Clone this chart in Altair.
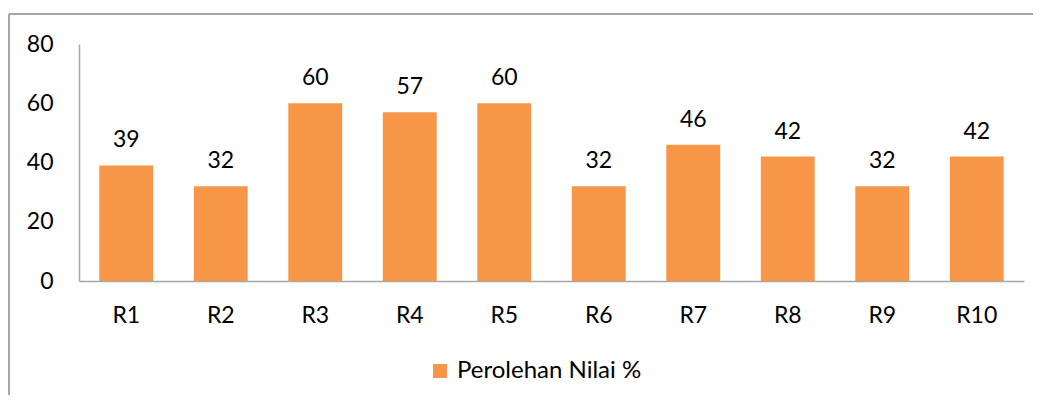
import altair as alt
import pandas as pd

categories = ["R1", "R2", "R3", "R4", "R5", "R6", "R7", "R8", "R9", "R10"]
values = [39, 32, 60, 57, 60, 32, 46, 42, 32, 42]
series_name = "Perolehan Nilai %"
y_ticks = [0, 20, 40, 60, 80]

df = pd.DataFrame({"cat": categories, "val": values, "series": [series_name] * len(categories)})

FONT = "Lato"
FS = 23
ORANGE = "#F79646"
GRAY = "#A6A6A6"

x_enc = alt.X("cat:N", sort=categories, title=None,
              scale=alt.Scale(paddingInner=0.43, paddingOuter=0.215),
              axis=alt.Axis(labelAngle=0, ticks=False, domainColor=GRAY, domainWidth=1.5,
                            labelPadding=23, labelFontSize=FS, labelFont=FONT, labelColor="#000000"))
y_enc = alt.Y("val:Q", title=None,
              scale=alt.Scale(domain=[0, 80], nice=False),
              axis=alt.Axis(values=y_ticks, grid=False, ticks=False, domainColor=GRAY, domainWidth=1.5,
                            labelPadding=26, labelFontSize=FS, labelFont=FONT, labelColor="#000000"))

bars = alt.Chart(df).mark_bar().encode(
    x=x_enc,
    y=y_enc,
    color=alt.Color("series:N", title=None,
                    scale=alt.Scale(domain=[series_name], range=[ORANGE]),
                    legend=alt.Legend(orient="none", legendX=349, legendY=315, padding=0,
                                      symbolType="square", symbolSize=196, symbolStrokeWidth=0,
                                      labelFontSize=24, labelFont=FONT, labelColor="#000000",
                                      labelOffset=5, labelLimit=0)),
)

labels = alt.Chart(df).mark_text(baseline="alphabetic", dy=-18, fontSize=FS, font=FONT, color="#000000").encode(
    x=alt.X("cat:N", sort=categories),
    y=alt.Y("val:Q"),
    text=alt.Text("val:Q"),
)

border_top = alt.Chart(df).mark_rule(color=GRAY, strokeWidth=1.5).encode(
    x=alt.value(-70), x2=alt.value(1200), y=alt.value(-30)
)
border_left = alt.Chart(df).mark_rule(color=GRAY, strokeWidth=1.5).encode(
    x=alt.value(-70), y=alt.value(-30), y2=alt.value(500)
)

chart = alt.layer(border_top, border_left, bars, labels).properties(
    width=945, height=237,
    autosize=alt.AutoSizeParams(type="none"),
    padding={"left": 71, "top": 36, "right": 9, "bottom": 114},
).configure(font=FONT, view=alt.ViewConfig(stroke=None))

chart.save("out.html", embed_options={"renderer": "svg", "actions": False})
